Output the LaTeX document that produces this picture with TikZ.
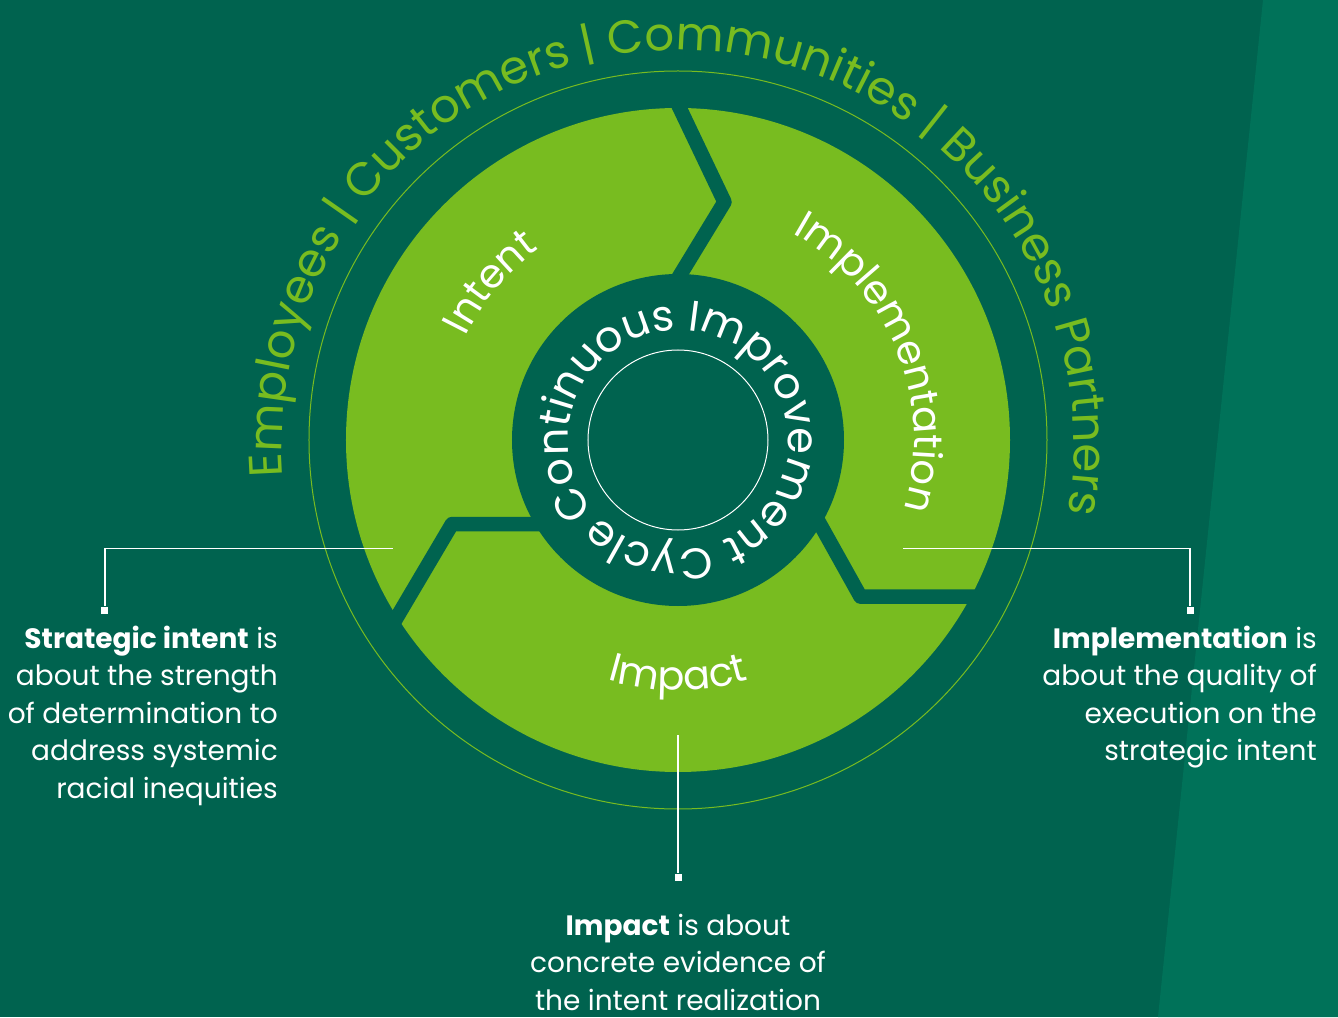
\documentclass[tikz,border=0pt]{standalone}
\usepackage{fontspec}
\setmainfont{Poppins}
\usetikzlibrary{decorations.text}
\definecolor{bgdark}{RGB}{0,99,79}
\definecolor{bgstripe}{RGB}{0,114,89}
\definecolor{leaf}{RGB}{120,188,32}

\begin{document}
\begin{tikzpicture}[x=1pt,y=1pt,
  divider/.style={draw=bgdark, line width=14.5pt, line join=round},
  ringtext/.style={decorate, decoration={text along path, text align=center,
      text format delimiters={[}{]}}},
  callout/.style={draw=white, line width=1.5pt},
  endmark/.style={fill=white, minimum size=7pt, inner sep=0pt},
  desc/.style={text=white, font=\fontsize{28}{37.5}\selectfont, inner sep=0pt}
]
% origin at the hub centre
\useasboundingbox (-678,-577) rectangle (660,440);
\fill[bgdark] (-678,-577) rectangle (660,440);
\fill[bgstripe] (585,440) -- (660,440) -- (660,-577) -- (480,-577) -- cycle;

% outer guide circle and the green wheel
\draw[leaf, line width=1pt] (0,0) circle (369);
\fill[leaf] (0,0) circle (332);
% chevron dividers between the three phases
\draw[divider] (-5,346) -- (46.5,238) -- (-4,155);
\draw[divider] (-288,-189) -- (-226,-84) -- (-129,-84);
\draw[divider] (135.7,-72.8) -- (182.5,-156.7) -- (306,-156.7);
\fill[bgdark] (0,0) circle (166);
\draw[white, line width=1pt] (0,0) circle (90);

% stakeholder ring
\path[ringtext, decoration={text color=leaf,
  text={[\fontsize{46.5}{56}\selectfont]Employees | Customers | Communities | Business Partners}}]
  (0,-6) ++(192.3:396) arc[start angle=192.3, end angle=-17.7, radius=396];

% hub text
\path[ringtext, decoration={text color=white,
  text={[\fontsize{43}{50}\selectfont]Continuous Improvement Cycle}}]
  (222:110) arc[start angle=222, end angle=-138, radius=110];

% segment labels
\path[ringtext, decoration={text color=white,
  text={[\fontsize{40}{48}\selectfont]Intent}}]
  (180:236) arc[start angle=180, end angle=100, radius=236];
\path[ringtext, decoration={text color=white,
  text={[\fontsize{40}{48}\selectfont]Implementation}}]
  (92:236) arc[start angle=92, end angle=-48, radius=236];
\path[ringtext, decoration={text color=white,
  text={[\fontsize{40}{48}\selectfont]Impact}}]
  (-130:250) arc[start angle=-130, end angle=-50, radius=250];

% callouts
\coordinate (intentTip) at (-285,-108.5);
\coordinate (implTip) at (225,-108.5);
\coordinate (impactTip) at (0,-295);
\node[endmark] (intentEnd) at (-573,-170) {};
\node[endmark] (implEnd) at (512,-170) {};
\node[endmark] (impactEnd) at (0,-437) {};
\draw[callout] (intentTip) -| (intentEnd);
\draw[callout] (implTip) -| (implEnd);
\draw[callout] (impactTip) -- (impactEnd);

% descriptions (base anchor sits on the last line)
\node[desc, align=right, anchor=base east] (intentText) at (-400,-358)
  {\textbf{Strategic intent} is\\about the strength\\of determination to\\address systemic\\racial inequities};
\node[desc, align=right, anchor=base east] (implText) at (639,-320.5)
  {\textbf{Implementation} is\\about the quality of\\execution on the\\strategic intent};
\node[desc, align=center, anchor=base] (impactText) at (0,-570)
  {\textbf{Impact} is about\\concrete evidence of\\the intent realization};
\end{tikzpicture}
\end{document}
